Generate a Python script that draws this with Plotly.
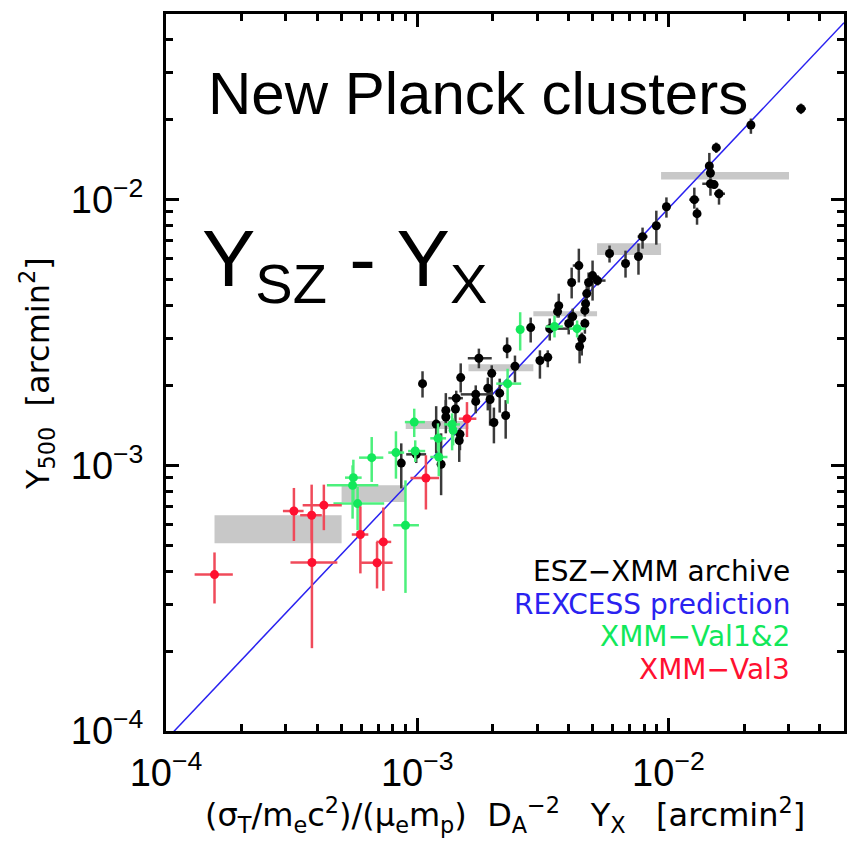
import math
import plotly.graph_objects as go

# ---------------- data (arcmin^2) ----------------
# ESZ-XMM archive (black)
esz_x = [0.0337, 0.0213, 0.0155, 0.01455, 0.0147, 0.0147, 0.0152, 0.0159, 0.01268, 0.0130,
         0.00982, 0.00895, 0.00789, 0.0076, 0.00675, 0.00583, 0.0044, 0.00499, 0.00412, 0.00481,
         0.00522, 0.00473, 0.00468, 0.00465, 0.00366, 0.00362, 0.00416, 0.00401, 0.00465, 0.00283,
         0.00337, 0.00452, 0.00443, 0.00228, 0.00176, 0.00308, 0.00331, 0.00198, 0.00245, 0.00149,
         0.00105, 0.00213, 0.00191, 0.00171, 0.00143, 0.00171, 0.00195, 0.0013, 0.00142, 0.0013,
         0.00225, 0.00202, 0.00119, 0.00148, 0.00147, 0.000864, 0.000991, 0.001245]
esz_y = [0.0220, 0.0191, 0.0157, 0.0134, 0.0126, 0.01148, 0.0114, 0.01053, 0.0100, 0.00886,
         0.00941, 0.00798, 0.00726, 0.00611, 0.00575, 0.00627, 0.00565, 0.00518, 0.00488, 0.00488,
         0.00496, 0.00443, 0.00406, 0.00383, 0.00399, 0.00379, 0.00363, 0.00342, 0.00342, 0.0033,
         0.00327, 0.0030, 0.0028, 0.00275, 0.00253, 0.00248, 0.00255, 0.00222, 0.00236, 0.00214,
         0.00203, 0.00187, 0.00195, 0.00185, 0.00179, 0.00174, 0.00177, 0.00161, 0.00163, 0.00152,
         0.00154, 0.00145, 0.00143, 0.00131, 0.00124, 0.00102, 0.00110, 0.00101]
esz_y_lo = [0.0210, 0.0177, 0.0150, 0.0125, 0.0120, 0.01035, 0.0110, 0.00958, 0.00925, 0.00805,
            0.00856, 0.00677, 0.00654, 0.00522, 0.00509, 0.0058, 0.00488, 0.00417, 0.00425, 0.00443,
            0.00475, 0.0041, 0.00383, 0.00363, 0.0036, 0.0036, 0.00336, 0.00311, 0.00313, 0.0029,
            0.00295, 0.00259, 0.00242, 0.00253, 0.00232, 0.00212, 0.00234, 0.0018, 0.00205, 0.00188,
            0.0018, 0.00158, 0.00161, 0.00171, 0.00161, 0.00157, 0.00141, 0.00145, 0.00144, 0.00132,
            0.00126, 0.00121, 0.00111, 0.00114, 0.00103, 0.000819, 0.00102, 0.000772]
esz_y_hi = [0.0230, 0.0202, 0.0164, 0.0150, 0.0133, 0.0120, 0.0118, 0.0110, 0.0111, 0.00933,
            0.0102, 0.00909, 0.00785, 0.00684, 0.00643, 0.00672, 0.00654, 0.0059, 0.00555, 0.00532,
            0.0052, 0.00483, 0.00428, 0.00403, 0.00443, 0.00399, 0.00389, 0.0037, 0.00357, 0.0036,
            0.00357, 0.00316, 0.0030, 0.00303, 0.00275, 0.00271, 0.00271, 0.00238, 0.00259, 0.00242,
            0.00226, 0.00212, 0.00214, 0.0020, 0.00191, 0.00187, 0.00195, 0.00176, 0.0018, 0.00187,
            0.00176, 0.00165, 0.00167, 0.00138, 0.00136, 0.00121, 0.00117, 0.00132]
esz_x_lo = [0.0322, 0.0206, 0.0149, 0.01455, 0.0147, 0.01364, 0.0152, 0.0152, 0.0121, 0.0130,
            0.00982, 0.00895, 0.00754, 0.0076, 0.00675, 0.00583, 0.00416, 0.00499, 0.00412, 0.00481,
            0.00476, 0.00473, 0.00468, 0.00465, 0.00366, 0.00362, 0.00416, 0.00401, 0.00465, 0.00283,
            0.00325, 0.00452, 0.00443, 0.00228, 0.00159, 0.00308, 0.00331, 0.00198, 0.00245, 0.00149,
            0.00105, 0.00213, 0.00191, 0.00149, 0.00133, 0.00171, 0.00195, 0.0013, 0.00142, 0.0013,
            0.00225, 0.00202, 0.00119, 0.00148, 0.00147, 0.000864, 0.000904, 0.001245]
esz_x_hi = [0.0353, 0.0221, 0.0161, 0.01455, 0.0147, 0.01565, 0.0152, 0.0168, 0.01327, 0.0130,
            0.00982, 0.00895, 0.00826, 0.0076, 0.00675, 0.00583, 0.00456, 0.00499, 0.00412, 0.00481,
            0.00562, 0.00473, 0.00468, 0.00465, 0.00366, 0.00362, 0.00416, 0.00401, 0.00465, 0.00283,
            0.00405, 0.00452, 0.00443, 0.00228, 0.00198, 0.00308, 0.00331, 0.00198, 0.00245, 0.00149,
            0.00105, 0.00213, 0.00191, 0.00191, 0.00152, 0.00171, 0.00195, 0.0013, 0.00142, 0.0013,
            0.00225, 0.00202, 0.00119, 0.00148, 0.00147, 0.000864, 0.001085, 0.001245]

# XMM-Val1&2 (green)
val12_x = [9.73e-4, 8.23e-4, 6.59e-4, 5.57e-4, 5.53e-4, 5.79e-4, 8.98e-4, 9.82e-4,
           1.21e-3, 1.219e-3, 1.377e-3, 1.39e-3, 2.57e-3, 3.52e-3, 4.33e-3, 2.29e-3]
val12_y = [1.455e-3, 1.117e-3, 1.069e-3, 8.99e-4, 8.41e-4, 7.18e-4, 5.95e-4, 1.132e-3,
           1.264e-3, 1.075e-3, 1.426e-3, 1.355e-3, 3.245e-3, 3.33e-3, 3.27e-3, 2.03e-3]
val12_x_lo = [8.93e-4, 7.67e-4, 5.87e-4, 5.16e-4, 4.37e-4, 4.64e-4, 8.03e-4, 9.2e-4,
              1.127e-3, 1.127e-3, 1.28e-3, 1.35e-3, 2.52e-3, 3.25e-3, 4.03e-3, 2.064e-3]
val12_x_hi = [1.073e-3, 8.87e-4, 7.33e-4, 6.01e-4, 7.0e-4, 7.39e-4, 1.016e-3, 1.076e-3,
              1.303e-3, 1.32e-3, 1.48e-3, 1.43e-3, 2.62e-3, 3.80e-3, 4.68e-3, 2.594e-3]
val12_y_lo = [1.278e-3, 8.91e-4, 8.66e-4, 7.39e-4, 6.3e-4, 5.70e-4, 3.31e-4, 1.029e-3,
              1.139e-3, 9.1e-4, 1.139e-3, 1.189e-3, 2.706e-3, 3.03e-3, 3.03e-3, 1.706e-3]
val12_y_hi = [1.634e-3, 1.343e-3, 1.278e-3, 1.05e-3, 1.0e-3, 8.29e-4, 8.78e-4, 1.242e-3,
              1.439e-3, 1.319e-3, 1.57e-3, 1.503e-3, 3.77e-3, 3.66e-3, 3.51e-3, 2.31e-3]

# XMM-Val3 (red)
val3_x = [1.56e-4, 3.23e-4, 3.80e-4, 3.81e-4, 4.25e-4, 5.94e-4, 7.33e-4, 6.92e-4, 1.083e-3, 1.578e-3]
val3_y = [3.88e-4, 6.73e-4, 6.49e-4, 4.31e-4, 7.08e-4, 5.49e-4, 5.15e-4, 4.30e-4, 8.96e-4, 1.498e-3]
val3_x_lo = [1.30e-4, 2.92e-4, 3.42e-4, 3.13e-4, 3.50e-4, 5.49e-4, 6.88e-4, 5.98e-4, 9.40e-4, 1.464e-3]
val3_x_hi = [1.845e-4, 3.53e-4, 4.17e-4, 4.81e-4, 5.01e-4, 6.39e-4, 7.88e-4, 7.98e-4, 1.222e-3, 1.72e-3]
val3_y_lo = [3.02e-4, 5.19e-4, 5.22e-4, 2.05e-4, 5.70e-4, 3.92e-4, 3.37e-4, 3.44e-4, 6.82e-4, 1.278e-3]
val3_y_hi = [4.70e-4, 8.22e-4, 8.46e-4, 6.4e-4, 8.46e-4, 7.01e-4, 6.94e-4, 5.15e-4, 1.091e-3, 1.73e-3]

# binned values (grey boxes)
bin_x_lo = [1.56e-4, 5.0e-4, 9.0e-4, 1.6e-3, 2.9e-3, 5.2e-3, 9.35e-3]
bin_x_hi = [5.0e-4, 9.0e-4, 1.6e-3, 2.9e-3, 5.2e-3, 9.35e-3, 3.02e-2]
bin_y_lo = [5.09e-4, 7.28e-4, 1.37e-3, 2.26e-3, 3.64e-3, 6.19e-3, 1.19e-2]
bin_y_hi = [6.49e-4, 8.41e-4, 1.47e-3, 2.40e-3, 3.80e-3, 6.86e-3, 1.27e-2]

# REXCESS prediction: Y500 = norm * Yx
rexcess_x = [1e-4, 5e-2]
rexcess_norm = 0.927

# axes
axis_range = [1e-4, 5e-2]
major_ticks = [1e-4, 1e-3, 1e-2]
major_text = ["10<sup>\u22124</sup>", "10<sup>\u22123</sup>", "10<sup>\u22122</sup>"]
minor_digits = [2, 3, 4, 5, 6, 7, 8, 9]
minor_ticks = [d * m for m in [1e-4, 1e-3, 1e-2] for d in minor_digits if d * m <= 5e-2]

FONT = "DejaVu Sans"
TICK_FONT = "Liberation Sans"
TITLE_FONT = "Liberation Sans"
BLACK = "#000000"
GREEN = "#12e85a"
RED = "#ff1030"
BLUE = "#2a22f0"

fig = go.Figure()

# grey boxes
bx, by = [], []
for x0, x1, y0, y1 in zip(bin_x_lo, bin_x_hi, bin_y_lo, bin_y_hi):
    bx += [x0, x1, x1, x0, x0, None]
    by += [y0, y0, y1, y1, y0, None]
fig.add_trace(go.Scatter(x=bx, y=by, mode="lines", fill="toself",
                         fillcolor="#c8c8c8", line=dict(width=0, color="#c8c8c8"),
                         hoverinfo="skip", showlegend=False))

# REXCESS line
fig.add_trace(go.Scatter(x=rexcess_x, y=[rexcess_norm * v for v in rexcess_x],
                         mode="lines", line=dict(color=BLUE, width=1.5),
                         showlegend=False))


def add_points(x, y, xlo, xhi, ylo, yhi, color, ecolor):
    fig.add_trace(go.Scatter(
        x=x, y=y, mode="markers",
        marker=dict(color=color, size=9, line=dict(width=0)),
        error_y=dict(type="data", symmetric=False,
                     array=[h - v for h, v in zip(yhi, y)],
                     arrayminus=[v - l for l, v in zip(ylo, y)],
                     color=ecolor, thickness=2.5, width=0),
        error_x=dict(type="data", symmetric=False,
                     array=[h - v for h, v in zip(xhi, x)],
                     arrayminus=[v - l for l, v in zip(xlo, x)],
                     color=ecolor, thickness=2.5, width=0),
        showlegend=False))


add_points(esz_x, esz_y, esz_x_lo, esz_x_hi, esz_y_lo, esz_y_hi, BLACK, "#3a3a3a")
add_points(val12_x, val12_y, val12_x_lo, val12_x_hi, val12_y_lo, val12_y_hi, GREEN, "#4cf07c")
add_points(val3_x, val3_y, val3_x_lo, val3_x_hi, val3_y_lo, val3_y_hi, RED, "#f04a5a")

axis_common = dict(
    type="log",
    range=[math.log10(axis_range[0]), math.log10(axis_range[1])],
    showline=True, linecolor="black", linewidth=3, mirror="allticks",
    ticks="inside", ticklen=13, tickwidth=2.5, tickcolor="black",
    tickmode="array", tickvals=major_ticks, ticktext=major_text,
    minor=dict(tickmode="array", tickvals=minor_ticks, ticks="inside",
               ticklen=7, tickwidth=2.5, tickcolor="black"),
    showgrid=False, zeroline=False,
    tickfont=dict(family=TICK_FONT, size=38, color="black"),
)

fig.update_layout(
    width=848, height=841,
    margin=dict(l=166, r=1, t=14, b=110),
    paper_bgcolor="white", plot_bgcolor="white",
    xaxis=dict(**axis_common, ticklabelstandoff=6),
    yaxis=dict(**axis_common, ticklabelstandoff=12),
    font=dict(family=FONT, color="black"),
)

ann = [
    dict(text="New Planck clusters", x=0.4596, y=0.889, size=60, color=BLACK,
         xanchor="center", family=TITLE_FONT),
    dict(text="Y<sub>SZ</sub> - Y<sub>X</sub>", x=0.05, y=0.650, size=80, color=BLACK,
         xanchor="left", family=TITLE_FONT),
    dict(text="ESZ\u2212XMM archive", x=0.9236, y=0.223, size=28, color=BLACK, xanchor="right",
         family=FONT),
    dict(text="REXCESS prediction", x=0.9236, y=0.177, size=28, color=BLUE, xanchor="right",
         family=FONT),
    dict(text="XMM\u2212Val1&amp;2", x=0.9236, y=0.1316, size=28, color=GREEN, xanchor="right",
         family=FONT),
    dict(text="XMM\u2212Val3", x=0.9236, y=0.0863, size=28, color=RED, xanchor="right",
         family=FONT),
    dict(text="(\u03c3<sub>T</sub>/m<sub>e</sub>c<sup>2</sup>)/(\u03bc<sub>e</sub>m<sub>p</sub>)  "
              "D<sub>A</sub><sup>\u22122</sup>   Y<sub>X</sub>   [arcmin<sup>2</sup>]",
         x=0.5, y=-0.117, size=32, color=BLACK, xanchor="center", family=FONT),
]
for a in ann:
    fig.add_annotation(text=a["text"], x=a["x"], y=a["y"], xref="paper", yref="paper",
                       xanchor=a["xanchor"], yanchor="middle", showarrow=False,
                       font=dict(family=a["family"], size=a["size"], color=a["color"]))

fig.add_annotation(text="Y<sub>500</sub>  [arcmin<sup>2</sup>]", x=-0.19, y=0.498,
                   xref="paper", yref="paper", textangle=-90, showarrow=False,
                   xanchor="center", yanchor="middle",
                   font=dict(family=FONT, size=32, color=BLACK))

fig.write_html("out.html")
